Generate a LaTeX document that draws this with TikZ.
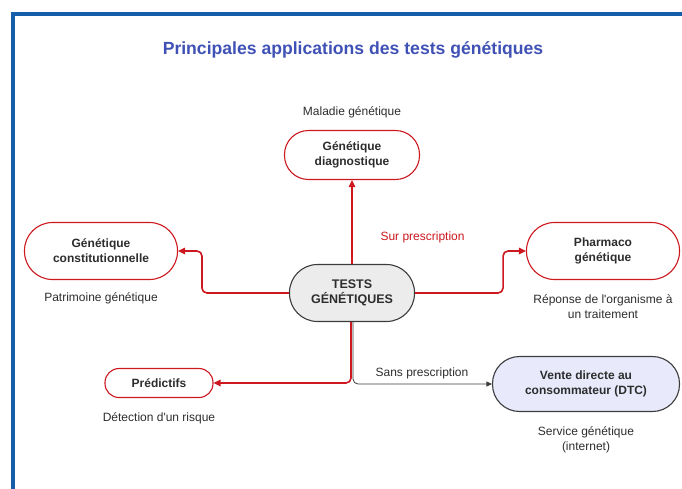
\documentclass[tikz,border=0pt]{standalone}
\usepackage{fontspec}
\setmainfont{Liberation Sans}
\usetikzlibrary{arrows.meta,positioning}

\definecolor{framblue}{RGB}{22,94,172}
\definecolor{titleblue}{RGB}{63,81,181}
\definecolor{linkred}{RGB}{204,24,30}
\definecolor{inkgray}{RGB}{45,45,45}
\definecolor{bordgray}{RGB}{60,60,60}
\definecolor{hubfill}{RGB}{236,236,236}
\definecolor{dtcfill}{RGB}{232,234,252}

\tikzset{
  pill/.style={draw=linkred, line width=1.1pt, fill=white, align=center,
    font=\fontsize{12}{15}\selectfont\bfseries, text=inkgray,
    inner sep=0pt},
  hub/.style={pill, draw=bordgray, fill=hubfill, font=\fontsize{12.5}{15.5}\selectfont\bfseries},
  dtcbox/.style={pill, draw=bordgray, fill=dtcfill},
  caption/.style={font=\fontsize{12}{15}\selectfont, text=inkgray, align=center},
  redlink/.style={draw=linkred, line width=1.6pt, rounded corners=5pt,
    -{Triangle[length=7pt,width=6.5pt]}},
  graylink/.style={draw=bordgray, line width=0.8pt, rounded corners=5pt,
    -{Triangle[length=5.5pt,width=5pt]}}
}

\begin{document}
\begin{tikzpicture}[x=1pt,y=-1pt]
\useasboundingbox (0,0) rectangle (682,488);

% frame
\draw[framblue, line width=4pt] (13,490) -- (13,14) -- (684,14);

% title
\node[font=\fontsize{17.6}{21}\selectfont\bfseries, text=titleblue] (title) at (353,50)
  {Principales applications des tests génétiques};

% hub
\node[hub, minimum width=125pt, minimum height=57pt, rounded corners=28pt]
  (tests) at (352,293) {TESTS\\GÉNÉTIQUES};

% applications
\node[pill, minimum width=135pt, minimum height=49pt, rounded corners=24pt]
  (diag) at (352,155) {Génétique\\diagnostique};
\node[pill, minimum width=153pt, minimum height=57pt, rounded corners=28pt]
  (constit) at (101,251) {Génétique\\constitutionnelle};
\node[pill, minimum width=153pt, minimum height=57pt, rounded corners=28pt]
  (pharma) at (603,251) {Pharmaco\\génétique};
\node[pill, minimum width=108pt, minimum height=29pt, rounded corners=14pt]
  (pred) at (159,383) {Prédictifs};
\node[dtcbox, minimum width=187pt, minimum height=55pt, rounded corners=27pt]
  (dtc) at (586,384) {Vente directe au\\consommateur (DTC)};

% captions
\node[caption] (capdiag) at (352,112) {Maladie génétique};
\node[caption] (capconst) at (101,298) {Patrimoine génétique};
\node[caption] (cappharma) at (603,307) {Réponse de l\textquotesingle organisme à\\un traitement};
\node[caption] (cappred) at (159,418) {Détection d\textquotesingle un risque};
\node[caption] (capdtc) at (586,440) {Service génétique\\(internet)};

% links
\draw[redlink] (tests.north) -- (diag.south);
\draw[redlink] (tests.west) -- ++(-87,0) |- (constit.east);
\draw[redlink] (tests.east) -- ++(88,0) |- (pharma.west);
\draw[graylink] ([xshift=1pt]tests.south) |- (dtc.west);
\draw[redlink] ([xshift=-1pt]tests.south) |- (pred.east);

% link labels
\node[caption, text=linkred, anchor=west] (surp) at (377,237) {Sur prescription};
\node[caption] (sansp) at (422,373) {Sans prescription};
\end{tikzpicture}
\end{document}
